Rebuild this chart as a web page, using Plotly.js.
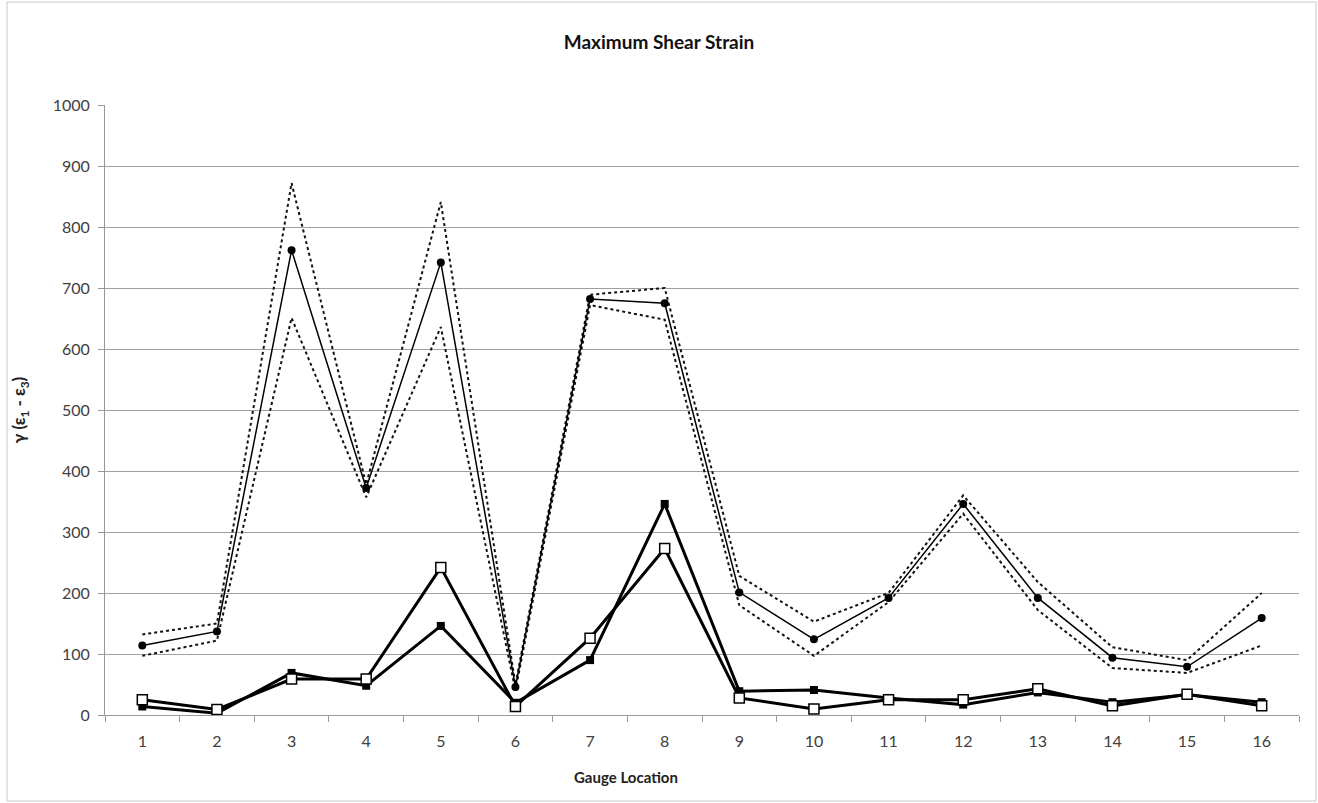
<!DOCTYPE html>
<html>
<head>
<meta charset="utf-8">
<script src="https://cdn.plot.ly/plotly-3.0.1.min.js"></script>
<style>
  html, body { margin: 0; padding: 0; background: #fff; }
  #chart { width: 1318px; height: 803px; }
</style>
</head>
<body>
<div id="chart"></div>
<script>
const gauges = ["1","2","3","4","5","6","7","8","9","10","11","12","13","14","15","16"];
const meanStrain  = [114, 137, 762, 372, 742, 46, 682, 675, 201, 124, 192, 346, 192, 94, 79, 159];
const upperBound  = [132, 150, 872, 378, 841, 50, 689, 700, 228, 153, 200, 360, 218, 111, 90, 200];
const lowerBound  = [97, 122, 651, 357, 636, 40, 672, 648, 180, 97, 185, 330, 172, 77, 69, 114];
const filledSquare = [14, 3, 69, 48, 146, 20, 90, 346, 39, 41, 28, 17, 37, 21, 33, 21];
const openSquare   = [25, 9, 59, 59, 242, 14, 126, 273, 28, 10, 25, 25, 43, 15, 34, 15];
const yTicks = [0, 100, 200, 300, 400, 500, 600, 700, 800, 900, 1000];

const font = "Lato, Open Sans, sans-serif";

const traces = [
  {x: gauges, y: upperBound, type: "scatter", mode: "lines",
   line: {color: "#111", width: 2, dash: "dot"}, hoverinfo: "skip"},
  {x: gauges, y: lowerBound, type: "scatter", mode: "lines",
   line: {color: "#111", width: 2, dash: "dot"}, hoverinfo: "skip"},
  {x: gauges, y: meanStrain, type: "scatter", mode: "lines+markers",
   line: {color: "#000", width: 1.5},
   marker: {symbol: "circle", size: 8, color: "#000"}},
  {x: gauges, y: filledSquare, type: "scatter", mode: "lines+markers",
   line: {color: "#000", width: 3},
   marker: {symbol: "square", size: 8, color: "#000"}},
  {x: gauges, y: openSquare, type: "scatter", mode: "lines+markers",
   line: {color: "#000", width: 3},
   marker: {symbol: "square", size: 10, color: "#fff", line: {color: "#000", width: 1.5}}}
];

const layout = {
  width: 1318, height: 803,
  margin: {l: 105, r: 19, t: 105, b: 88},
  paper_bgcolor: "#fff", plot_bgcolor: "#fff",
  showlegend: false,
  font: {family: font, size: 16, color: "#404040"},
  title: {text: "<b>Maximum Shear Strain</b>", x: 0.5, xanchor: "center",
          y: 0.947, yanchor: "middle", font: {family: font, size: 19, color: "#111"}},
  xaxis: {
    type: "category", categoryorder: "array", categoryarray: gauges,
    range: [-0.5, 15.5],
    showgrid: false, zeroline: false,
    showline: true, linecolor: "#999", linewidth: 1,
    ticks: "outside", tickson: "boundaries", ticklen: 6, tickcolor: "#999",
    ticklabelstandoff: 12,
    tickfont: {family: font, size: 16, color: "#404040"}
  },
  yaxis: {
    range: [0, 1000], tickvals: yTicks,
    showgrid: true, gridcolor: "#a0a0a0", gridwidth: 1,
    zeroline: false,
    showline: true, linecolor: "#999", linewidth: 1,
    ticks: "outside", ticklen: 6, tickcolor: "#999",
    ticklabelstandoff: 5,
    tickfont: {family: font, size: 16, color: "#404040"},
    title: {text: "<b>γ (ε<sub>1</sub> - ε<sub>3</sub>)</b>", standoff: 22,
            font: {family: font, size: 17, color: "#222"}}
  },
  annotations: [
    {text: "<b>Gauge Location</b>", xref: "paper", yref: "paper",
     x: (626 - 105) / 1194, y: -(777 - 715) / 610, xanchor: "center", yanchor: "middle",
     showarrow: false, font: {family: font, size: 15, color: "#222"}}
  ],
  shapes: [
    {type: "rect", xref: "paper", yref: "paper",
     x0: -98/1194, x1: 1316/1194 - 105/1194, y0: -86/610, y1: 1 + 103/610,
     line: {color: "#c8c8c8", width: 1}, fillcolor: "rgba(0,0,0,0)", layer: "below"}
  ]
};

Plotly.newPlot("chart", traces, layout, {displayModeBar: false, staticPlot: true});
</script>
</body>
</html>
